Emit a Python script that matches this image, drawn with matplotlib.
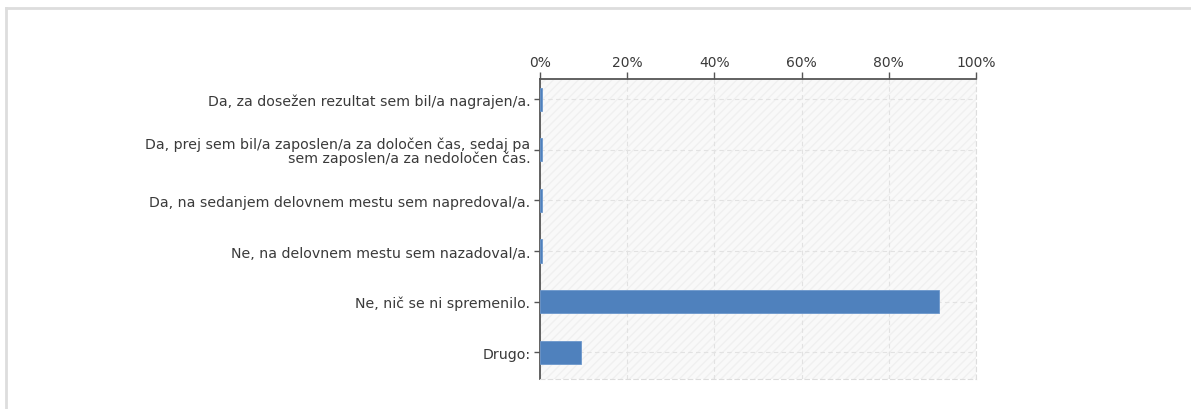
import numpy as np
import matplotlib
matplotlib.use('Agg')
from matplotlib import pyplot as plt
from matplotlib.lines import Line2D

categories = [
    'Da, za dosežen rezultat sem bil/a nagrajen/a.',
    'Da, prej sem bil/a zaposlen/a za določen čas, sedaj pa\nsem zaposlen/a za nedoločen čas.',
    'Da, na sedanjem delovnem mestu sem napredoval/a.',
    'Ne, na delovnem mestu sem nazadoval/a.',
    'Ne, nič se ni spremenilo.',
    'Drugo:',
]
values = [0.4, 0.4, 0.4, 0.4, 91.5, 9.3]
xticks = [0, 20, 40, 60, 80, 100]
xtick_labels = ['0%', '20%', '40%', '60%', '80%', '100%']

bar_color = '#4f81bd'
text_color = '#3a3a3a'

fig = plt.figure(figsize=(11.91, 4.10), dpi=100)
ax = fig.add_axes([540/1191, 1-380/410, 436/1191, 300/410])

# outer frame
fig.add_artist(Line2D([6/1191, 1], [1-9/410, 1-9/410], color='#dddddd', lw=2, transform=fig.transFigure))
fig.add_artist(Line2D([6/1191, 6/1191], [0, 1-9/410], color='#dddddd', lw=2, transform=fig.transFigure))

ax.set_facecolor('#f9f9f9')
ax.add_patch(plt.Rectangle((0, 0), 1, 1, transform=ax.transAxes, facecolor='none',
                           edgecolor='#f0f0f0', hatch='////', lw=0, zorder=0))

y = np.arange(len(categories))
ax.barh(y, values, height=0.46, color=bar_color, edgecolor='#6c97cc', lw=0.6, zorder=3)

ax.set_xlim(0, 100)
ax.set_ylim(5.53, -0.4)
ax.xaxis.tick_top()
ax.set_xticks(xticks)
ax.set_xticklabels(xtick_labels)
ax.set_yticks(y)
ax.set_yticklabels(categories, linespacing=0.95)

ax.grid(True, color='#e2e2e2', ls=(0, (4, 3)), lw=0.8, zorder=1)
ax.set_axisbelow(True)

for side in ['top', 'left']:
    ax.spines[side].set_color('#555555')
    ax.spines[side].set_linewidth(1.3)
for side in ['bottom', 'right']:
    ax.spines[side].set_color('#dddddd')
    ax.spines[side].set_linestyle((0, (4, 3)))
    ax.spines[side].set_linewidth(0.8)

ax.tick_params(axis='x', colors='#555555', labelcolor=text_color, labelsize=10, length=5, width=1, pad=2)
ax.tick_params(axis='y', colors='#555555', labelcolor=text_color, labelsize=10.2, length=4, width=1, pad=3)

fig.savefig('out.png', dpi=100)
